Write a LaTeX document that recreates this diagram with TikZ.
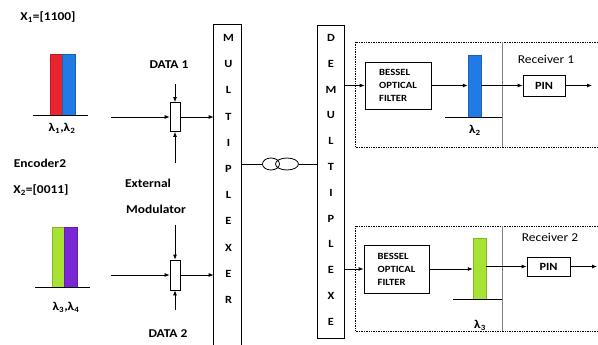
\documentclass[tikz,border=0pt]{standalone}
\usepackage{fontspec}
\setmainfont{Carlito}[FakeStretch=1.12]
\usetikzlibrary{arrows.meta,positioning,shapes.geometric,calc}
\definecolor{barred}{RGB}{232,36,44}
\definecolor{barblue}{RGB}{34,122,228}
\definecolor{bargreen}{RGB}{168,226,52}
\definecolor{barviolet}{RGB}{122,40,212}

\begin{document}
\begin{tikzpicture}[x=1pt, y=-1pt, line width=0.8pt,
    arr/.style={-{Latex[length=5pt,width=4pt]}},
    box/.style={draw, inner sep=0pt},
    lbl/.style={font=\bfseries\fontsize{12}{12}\selectfont},
    letter/.style={font=\bfseries\fontsize{11}{11}\selectfont, inner sep=0pt},
    filt/.style={box, align=left, font=\bfseries\fontsize{9.5}{13}\selectfont},
    rcv/.style={font=\fontsize{12}{12}\selectfont},
    bar/.style={fill=#1, draw=#1!80!black, line width=0.4pt, inner sep=0pt},
    dotbox/.style={line width=0.6pt, dash pattern=on 1pt off 0.7pt}]
    \useasboundingbox (0,0) rectangle (598,345);

    % encoders
    \node[lbl] (x1) at (48,17) {X\textsubscript{1}=[1100]};
    \node[bar=barred, minimum width=12, minimum height=61] (red) at (56,84.5) {};
    \node[bar=barblue, minimum width=13, minimum height=61] (blue) at (68.5,84.5) {};
    \draw (33,115) -- (88,115);
    \node[lbl] (lam12) at (62,128) {λ\textsubscript{1},λ\textsubscript{2}};
    \node[lbl] (enc2) at (40,163) {Encoder2};
    \node[lbl] (x2) at (41,190) {X\textsubscript{2}=[0011]};
    \node[bar=bargreen, minimum width=12, minimum height=60] (green) at (58,257) {};
    \node[bar=barviolet, minimum width=13, minimum height=60] (violet) at (70.5,257) {};
    \draw (35,287) -- (90,287);
    \node[lbl] (lam34) at (66,307) {λ\textsubscript{3},λ\textsubscript{4}};

    % external modulators
    \node[lbl] (data1) at (169,65) {DATA 1};
    \node[lbl] (ext) at (148,183) {External};
    \node[lbl] (modl) at (156,209) {Modulator};
    \node[lbl] (data2) at (168,334) {DATA 2};
    \node[box, minimum width=10, minimum height=29] (mod1) at (175,117) {};
    \node[box, minimum width=10, minimum height=30] (mod2) at (175,275) {};
    \coordinate (src1) at (111,117);
    \coordinate (src2) at (111,275);
    \coordinate (d1in) at (175,84);
    \coordinate (d1lo) at (175,163);
    \coordinate (d2in) at (175,225);
    \coordinate (d2lo) at (175,310);
    \draw[arr] (src1) -- (mod1.west);
    \draw[arr] (src2) -- (mod2.west);
    \draw[arr] (d1in) -- (mod1.north);
    \draw[arr] (d1lo) -- (mod1.south);
    \draw[arr] (d2in) -- (mod2.north);
    \draw[arr] (d2lo) -- (mod2.south);

    % multiplexer and demultiplexer
    \node[inner sep=0pt, minimum width=27, minimum height=320] (mux) at (227.5,185) {};
    \draw (mux.south west) |- (mux.north east) -- (mux.south east);
    \foreach \ch [count=\i from 0] in {M,U,L,T,I,P,L,E,X,E,R}
        \node[letter] (mx\i) at (228.5,38+26.2*\i) {\ch};
    \draw[arr] (mod1.east) -- (mod1.east -| mux.west);
    \draw[arr] (mod2.east) -- (mod2.east -| mux.west);

    \node[box, minimum width=27, minimum height=313] (demux) at (330.5,181.5) {};
    \foreach \ch [count=\i from 0] in {D,E,M,U,L,T,I,P,L,E,X,E}
        \node[letter] (dx\i) at (331,38+25.8*\i) {\ch};

    % fibre
    \node[draw, ellipse, inner sep=0pt, minimum width=17, minimum height=12] (ring1) at (271,164) {};
    \node[draw, ellipse, inner sep=0pt, minimum width=23, minimum height=12] (ring2) at (287,164) {};
    \draw (ring1.west -| mux.east) -- (ring1.west);
    \draw (ring2.east) -- (ring2.east -| demux.west);

    % receiver 1
    \draw[dotbox] (598,42) -- (355,42) -- (355,147) -- (598,147);
    \draw[gray, line width=0.6pt] (502,42) -- (502,147);
    \node[filt, minimum width=66, minimum height=47] (filt1) at (398,85.5) {BESSEL\\OPTICAL\\FILTER};
    \draw[arr] (demux.east |- filt1.west) -- (filt1.west);
    \node[bar=barblue, minimum width=13, minimum height=62] (bar2) at (474.5,86) {};
    \draw[arr] (filt1.east) -- (filt1.east -| bar2.west);
    \draw (445,117) -- (502,117);
    \node[lbl] (lam2) at (475,130) {λ\textsubscript{2}};
    \node[box, lbl, font=\bfseries\fontsize{11}{11}\selectfont, minimum width=42, minimum height=21] (pin1) at (544,85.5) {PIN};
    \draw[arr] (pin1.west -| bar2.east) -- (pin1.west);
    \coordinate (out1) at (592,85.5);
    \draw[arr] (pin1.east) -- (out1);
    \node[rcv] (rcv1) at (546,59) {Receiver 1};

    % receiver 2
    \draw[dotbox] (598,226) -- (355,226) -- (355,331) -- (598,331);
    \draw[gray, line width=0.6pt] (502,226) -- (502,331);
    \node[filt, minimum width=65, minimum height=48] (filt2) at (396.5,269) {BESSEL\\OPTICAL\\FILTER};
    \draw[arr] (demux.east |- filt2.west) -- (filt2.west);
    \node[bar=bargreen, minimum width=13, minimum height=61] (bar3) at (479.5,268.5) {};
    \draw[arr] (filt2.east) -- (filt2.east -| bar3.west);
    \draw (453,299) -- (502,299);
    \node[lbl] (lam3) at (480,325) {λ\textsubscript{3}};
    \node[box, font=\bfseries\fontsize{11}{11}\selectfont, minimum width=43, minimum height=19] (pin2) at (548.5,266.5) {PIN};
    \draw[arr] (pin2.west -| bar3.east) -- (pin2.west);
    \coordinate (out2) at (597,266.5);
    \draw[arr] (pin2.east) -- (out2);
    \node[rcv] (rcv2) at (550,237) {Receiver 2};
\end{tikzpicture}
\end{document}
